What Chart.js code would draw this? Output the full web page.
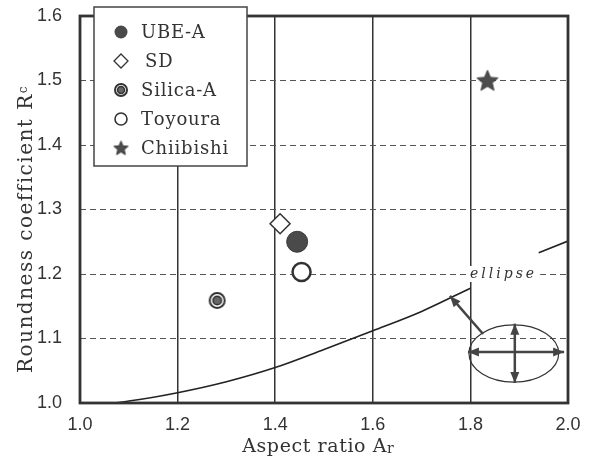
<!DOCTYPE html>
<html><head><meta charset="utf-8">
<script src="https://cdn.jsdelivr.net/npm/chart.js@4"></script>
<style>html,body{margin:0;padding:0;background:#fff}#wrap{width:592px;height:468px}</style>
</head><body><div id="wrap"><canvas id="c" width="592" height="468"></canvas></div>
<script>
// ---- data ----
const seriesNames = ['UBE-A', 'SD', 'Silica-A', 'Toyoura', 'Chiibishi'];
const aspectRatio = [1.445, 1.41, 1.281, 1.454, 1.835];
const roundness   = [1.250, 1.278, 1.159, 1.203, 1.500];
const curveX  = [1.0, 1.06, 1.1, 1.2, 1.3, 1.4, 1.5, 1.6, 1.7, 1.8];
const curveY  = [1.0, 1.0, 1.003, 1.016, 1.033, 1.055, 1.083, 1.112, 1.142, 1.178];
const curve2X = [1.94, 2.0];
const curve2Y = [1.233, 1.251];
const xTicks = [1.0, 1.2, 1.4, 1.6, 1.8, 2.0];
const yTicks = [1.0, 1.1, 1.2, 1.3, 1.4, 1.5, 1.6];
const xTitle = ['Aspect ratio A', 'r'];
const yTitle = ['Roundness coefficient R', 'c'];
const curveLabel = 'ellipse';

// ---- marker images ----
function starCanvas(R, fill){
  const s = Math.ceil(2*R+4), c = document.createElement('canvas'); c.width = c.height = s;
  const g = c.getContext('2d'); g.translate(s/2, s/2 + R*0.08); g.beginPath();
  for (let i=0;i<10;i++){ const r = i%2 ? R*0.45 : R; const a = -Math.PI/2 + i*Math.PI/5; g.lineTo(r*Math.cos(a), r*Math.sin(a)); }
  g.closePath(); g.fillStyle = fill; g.fill(); g.lineWidth = 1; g.strokeStyle = '#3a3a3a'; g.stroke(); return c;
}
function ringCanvas(R){
  const s = Math.ceil(2*R+4), c = document.createElement('canvas'); c.width = c.height = s;
  const g = c.getContext('2d'); g.translate(s/2, s/2);
  g.beginPath(); g.arc(0,0,R-1,0,Math.PI*2); g.lineWidth = 2; g.strokeStyle = '#333'; g.fillStyle='#fff'; g.fill(); g.stroke();
  g.beginPath(); g.arc(0,0,R*0.5,0,Math.PI*2); g.fillStyle = '#666'; g.fill(); g.lineWidth = 1.5; g.stroke();
  return c;
}
const starBig = starCanvas(11, '#4d4d4d'), starSmall = starCanvas(7.5, '#4d4d4d');
const ringBig = ringCanvas(8.5), ringSmall = ringCanvas(7);

const styles = [
  {pointStyle:'circle', pointRadius:10.5, backgroundColor:'#4a4a4a', borderColor:'#3a3a3a', borderWidth:1},
  {pointStyle:'rectRot', pointRadius:10, backgroundColor:'#fff', borderColor:'#333', borderWidth:1.5},
  {pointStyle:ringBig, pointRadius:9},
  {pointStyle:'circle', pointRadius:9, backgroundColor:'#fff', borderColor:'#333', borderWidth:2.5},
  {pointStyle:starBig, pointRadius:11}
];
const datasets = seriesNames.map((n,i)=>Object.assign({label:n, data:[{x:aspectRatio[i], y:roundness[i]}], showLine:false}, styles[i]));
datasets.push({label:'curve', data:curveX.map((x,i)=>({x, y:curveY[i]})), showLine:true, pointRadius:0, borderColor:'#222', borderWidth:1.6, cubicInterpolationMode:'monotone'});
datasets.push({label:'curve2', data:curve2X.map((x,i)=>({x, y:curve2Y[i]})), showLine:true, pointRadius:0, borderColor:'#222', borderWidth:1.6});

function spacedText(ctx, text, x, y, sp){
  for (const ch of text){ ctx.fillText(ch, x, y); x += ctx.measureText(ch).width + sp; }
  return x;
}
function spacedWidth(ctx, text, sp){ let w=0; for (const ch of text) w += ctx.measureText(ch).width + sp; return w; }
function arrowHead(ctx, x1,y1,x2,y2){
  const a = Math.atan2(y2-y1, x2-x1), L = 11, W = 4.5;
  ctx.beginPath(); ctx.moveTo(x2,y2);
  ctx.lineTo(x2 - L*Math.cos(a) + W*Math.sin(a), y2 - L*Math.sin(a) - W*Math.cos(a));
  ctx.lineTo(x2 - L*Math.cos(a) - W*Math.sin(a), y2 - L*Math.sin(a) + W*Math.cos(a));
  ctx.closePath(); ctx.fill();
}
function arrow(ctx, x1,y1,x2,y2, both){
  ctx.beginPath(); ctx.moveTo(x1,y1); ctx.lineTo(x2,y2); ctx.stroke();
  arrowHead(ctx,x1,y1,x2,y2); if (both) arrowHead(ctx,x2,y2,x1,y1);
}

const decor = {
  id:'decor',
  afterDraw(chart){
    const ctx = chart.ctx, a = chart.chartArea, X = chart.scales.x, Y = chart.scales.y;
    const px = v => X.getPixelForValue(v), py = v => Y.getPixelForValue(v);
    ctx.save();
    // frame
    ctx.strokeStyle = '#333'; ctx.lineWidth = 2.8;
    ctx.strokeRect(a.left, a.top, a.right-a.left, a.bottom-a.top);
    // ellipse label with white background
    ctx.font = 'italic 14px "DejaVu Serif"'; ctx.fillStyle = '#fff';
    const lw = spacedWidth(ctx, curveLabel, 3);
    const lx = px(1.868), ly = py(1.2);
    ctx.fillRect(lx - lw/2 - 3, ly - 8, lw + 6, 16);
    ctx.fillStyle = '#333'; ctx.textBaseline = 'middle'; ctx.textAlign = 'left';
    spacedText(ctx, curveLabel, lx - lw/2, ly, 3);
    // ellipse sketch
    ctx.strokeStyle = '#333'; ctx.lineWidth = 1.2;
    ctx.beginPath();
    ctx.ellipse(px(1.889), py(1.0767), px(1.889)-px(1.797), py(1.0767)-py(1.121), 0, 0, Math.PI*2);
    ctx.stroke();
    ctx.strokeStyle = '#444'; ctx.fillStyle = '#444'; ctx.lineWidth = 2.5;
    arrow(ctx, px(1.795), py(1.079), px(1.992), py(1.079), true);
    arrow(ctx, px(1.891), py(1.123), px(1.891), py(1.031), true);
    arrow(ctx, px(1.826), py(1.107), px(1.758), py(1.166), false);
    // legend box
    const bx = 94, by = 7, bw = 153, bh = 159;
    ctx.fillStyle = '#fff'; ctx.fillRect(bx, by, bw, bh);
    ctx.strokeStyle = '#444'; ctx.lineWidth = 1.5; ctx.strokeRect(bx, by, bw, bh);
    ctx.font = '18px "DejaVu Serif"'; ctx.textBaseline = 'middle'; ctx.textAlign = 'left';
    seriesNames.forEach((n,i)=>{
      const cy = by + 25 + i*29, cx = bx + 27;
      ctx.save();
      if (i===0){ ctx.beginPath(); ctx.arc(cx,cy,6.5,0,Math.PI*2); ctx.fillStyle='#4a4a4a'; ctx.fill(); }
      else if (i===1){ ctx.beginPath(); ctx.moveTo(cx,cy-7); ctx.lineTo(cx+7,cy); ctx.lineTo(cx,cy+7); ctx.lineTo(cx-7,cy); ctx.closePath(); ctx.strokeStyle='#333'; ctx.lineWidth=1.3; ctx.stroke(); }
      else if (i===2){ ctx.drawImage(ringSmall, cx-ringSmall.width/2, cy-ringSmall.height/2); }
      else if (i===3){ ctx.beginPath(); ctx.arc(cx,cy,6,0,Math.PI*2); ctx.strokeStyle='#333'; ctx.lineWidth=1.6; ctx.stroke(); }
      else { ctx.drawImage(starSmall, cx-starSmall.width/2, cy-starSmall.height/2); }
      ctx.restore();
      ctx.fillStyle = '#333';
      spacedText(ctx, n, bx + 47 + (i===1?4:0), cy + 1, 0.8);
    });
    // x title
    ctx.fillStyle = '#333'; ctx.textBaseline = 'alphabetic';
    ctx.font = '19px "DejaVu Serif"';
    const w1 = spacedWidth(ctx, xTitle[0], 0.6);
    ctx.font = '14px "DejaVu Serif"';
    const w2 = ctx.measureText(xTitle[1]).width;
    let tx = (a.left + a.right)/2 - 6 - (w1+w2)/2;
    ctx.font = '19px "DejaVu Serif"';
    tx = spacedText(ctx, xTitle[0], tx, 452, 0.6);
    ctx.font = '14px "DejaVu Serif"'; ctx.fillText(xTitle[1], tx, 453);
    // y title
    ctx.save();
    ctx.translate(32, 373); ctx.rotate(-Math.PI/2);
    ctx.font = '20px "DejaVu Serif"';
    let ty = spacedText(ctx, yTitle[0], 0, 0, 1.5);
    ctx.font = '12px "DejaVu Serif"'; ctx.fillText(yTitle[1], ty, -5);
    ctx.restore();
    ctx.restore();
  }
};

new Chart(document.getElementById('c'), {
  type:'scatter',
  data:{datasets},
  options:{
    responsive:false, animation:false, devicePixelRatio:1,
    layout:{padding:{top:16, right:24, left:0, bottom:0}},
    plugins:{legend:{display:false}, tooltip:{enabled:false}},
    scales:{
      x:{type:'linear', min:1.0, max:2.0,
        afterBuildTicks(s){ s.ticks = xTicks.map(v=>({value:v})); },
        afterFit(s){ s.height = 65; },
        ticks:{padding:11, color:'#333', font:{family:'"Liberation Sans", Arial, sans-serif', size:18}, callback:v=>v.toFixed(1), maxRotation:0},
        grid:{drawTicks:false, color:c=>(c.tick && (c.tick.value===1.0||c.tick.value===2.0))?'rgba(0,0,0,0)':'#333', lineWidth:1.5},
        border:{display:false}
      },
      y:{type:'linear', min:1.0, max:1.6,
        afterBuildTicks(s){ s.ticks = yTicks.map(v=>({value:v})); },
        afterFit(s){ s.width = 80; s.paddingTop = 0; s.paddingBottom = 0; },
        ticks:{padding:18, color:'#333', font:{family:'"Liberation Sans", Arial, sans-serif', size:18}, callback:v=>v.toFixed(1)},
        grid:{drawTicks:false, color:c=>(c.tick && (c.tick.value===1.0||c.tick.value===1.6))?'rgba(0,0,0,0)':'#555', lineWidth:1},
        border:{display:false, dash:[6,4]}
      }
    }
  },
  plugins:[decor]
});
</script></body></html>
